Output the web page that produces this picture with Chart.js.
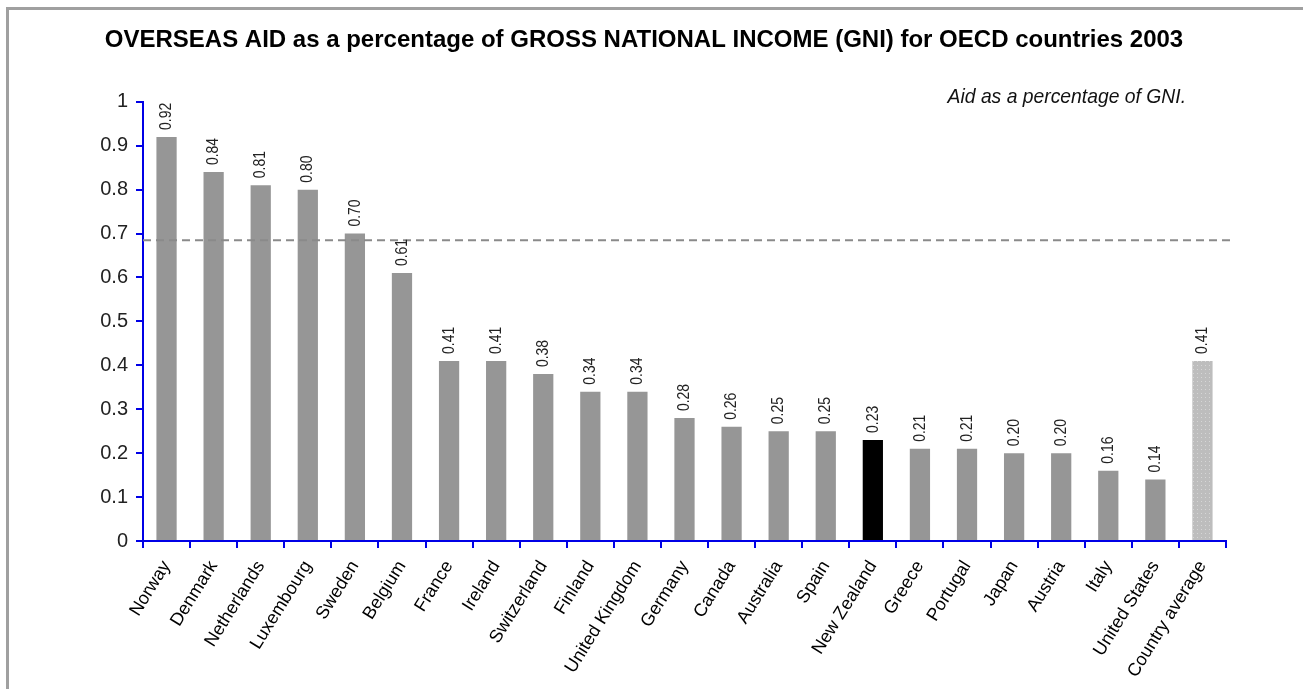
<!DOCTYPE html>
<html>
<head>
<meta charset="utf-8">
<script src="https://cdn.jsdelivr.net/npm/chart.js@4/dist/chart.umd.min.js"></script>
<style>
  body { margin: 0; background: #fff; }
  #frame { position: absolute; left: 6px; top: 7px; right: 0; bottom: -10px; border-left: 3px solid #a0a0a0; border-top: 3px solid #a0a0a0; }
  #chart { position: absolute; left: 0; top: 0; }
</style>
</head>
<body>
<div id="frame"></div>
<canvas id="chart" width="1303" height="689"></canvas>
<script>
const countries = ['Norway', 'Denmark', 'Netherlands', 'Luxembourg', 'Sweden', 'Belgium', 'France', 'Ireland',
    'Switzerland', 'Finland', 'United Kingdom', 'Germany', 'Canada', 'Australia', 'Spain', 'New Zealand',
    'Greece', 'Portugal', 'Japan', 'Austria', 'Italy', 'United States', 'Country average'];
const aidPercent = [0.92, 0.84, 0.81, 0.80, 0.70, 0.61, 0.41, 0.41, 0.38, 0.34, 0.34, 0.28, 0.26, 0.25, 0.25, 0.23,
    0.21, 0.21, 0.20, 0.20, 0.16, 0.14, 0.41];
const dashedLevel = 0.685;

const arial = '"Liberation Sans", Arial, sans-serif';

// dotted fill for the average bar
const pat = document.createElement('canvas');
pat.width = 4; pat.height = 4;
const pctx = pat.getContext('2d');
pctx.fillStyle = '#bdbdbd';
pctx.fillRect(0, 0, 4, 4);
pctx.fillStyle = '#d6d6d6';
pctx.fillRect(1, 1, 1, 1);
const avgFill = document.querySelector('#chart').getContext('2d').createPattern(pat, 'repeat');

const barColors = countries.map(c => c === 'New Zealand' ? '#000000' : (c === 'Country average' ? avgFill : '#969696'));

const extras = {
    id: 'extras',
    afterDatasetsDraw(chart) {
        const ctx = chart.ctx;
        const y = chart.scales.y;
        // dashed reference line
        const ly = y.getPixelForValue(dashedLevel);
        ctx.save();
        ctx.strokeStyle = '#8a8a8a';
        ctx.lineWidth = 2;
        ctx.setLineDash([8, 5]);
        ctx.beginPath();
        ctx.moveTo(chart.chartArea.left, ly);
        ctx.lineTo(chart.chartArea.right + 6, ly);
        ctx.stroke();
        ctx.restore();

        // value labels (narrow look)
        const meta = chart.getDatasetMeta(0);
        ctx.save();
        ctx.font = '17px ' + arial;
        ctx.fillStyle = '#222';
        ctx.textAlign = 'left';
        ctx.textBaseline = 'middle';
        meta.data.forEach((bar, i) => {
            ctx.save();
            ctx.translate(bar.x, bar.y - 7);
            ctx.rotate(-Math.PI / 2);
            ctx.scale(0.82, 1);
            ctx.fillText(aidPercent[i].toFixed(2), 0, 0);
            ctx.restore();
        });
        // note in the top right
        ctx.font = 'italic 21px ' + arial;
        ctx.fillStyle = '#111';
        ctx.textAlign = 'right';
        ctx.textBaseline = 'alphabetic';
        ctx.translate(1186, 103);
        ctx.scale(0.92, 1);
        ctx.fillText('Aid as a percentage of GNI.', 0, 0);
        ctx.restore();
    }
};

const myChart = new Chart(document.querySelector('#chart'), {
    type: 'bar',
    plugins: [extras],
    data: {
        labels: countries,
        datasets: [{
            data: aidPercent,
            backgroundColor: barColors,
            barPercentage: 0.43,
            categoryPercentage: 1
        }]
    },
    options: {
        responsive: false,
        animation: false,
        layout: { padding: { left: 62, right: 77, top: 0, bottom: 0 } },
        plugins: {
            legend: { display: false },
            tooltip: { enabled: false },
            title: {
                display: true,
                text: 'OVERSEAS AID as a percentage of GROSS NATIONAL INCOME (GNI) for OECD countries 2003',
                color: '#000',
                font: { family: arial, size: 24, weight: 'bold' },
                padding: { top: 26, bottom: 47 }
            }
        },
        scales: {
            x: {
                grid: { offset: true, drawOnChartArea: false, color: '#0000e6', tickLength: 7, lineWidth: 2 },
                border: { color: '#0000e6', width: 2 },
                ticks: { autoSkip: false, maxRotation: 58, minRotation: 58, color: '#000', padding: 9,
                    font: { family: arial, size: 18 } },
                afterFit: s => { s.height = 148; }
            },
            y: {
                min: 0,
                max: 1,
                grid: { drawOnChartArea: false, color: '#0000e6', tickLength: 7, lineWidth: 2 },
                border: { color: '#0000e6', width: 2 },
                ticks: { stepSize: 0.1, color: '#222', padding: 8, font: { family: arial, size: 20 },
                    callback: v => String(+v.toFixed(1)) },
                afterFit: s => { s.width = 81; }
            }
        }
    }
});
</script>
</body>
</html>
